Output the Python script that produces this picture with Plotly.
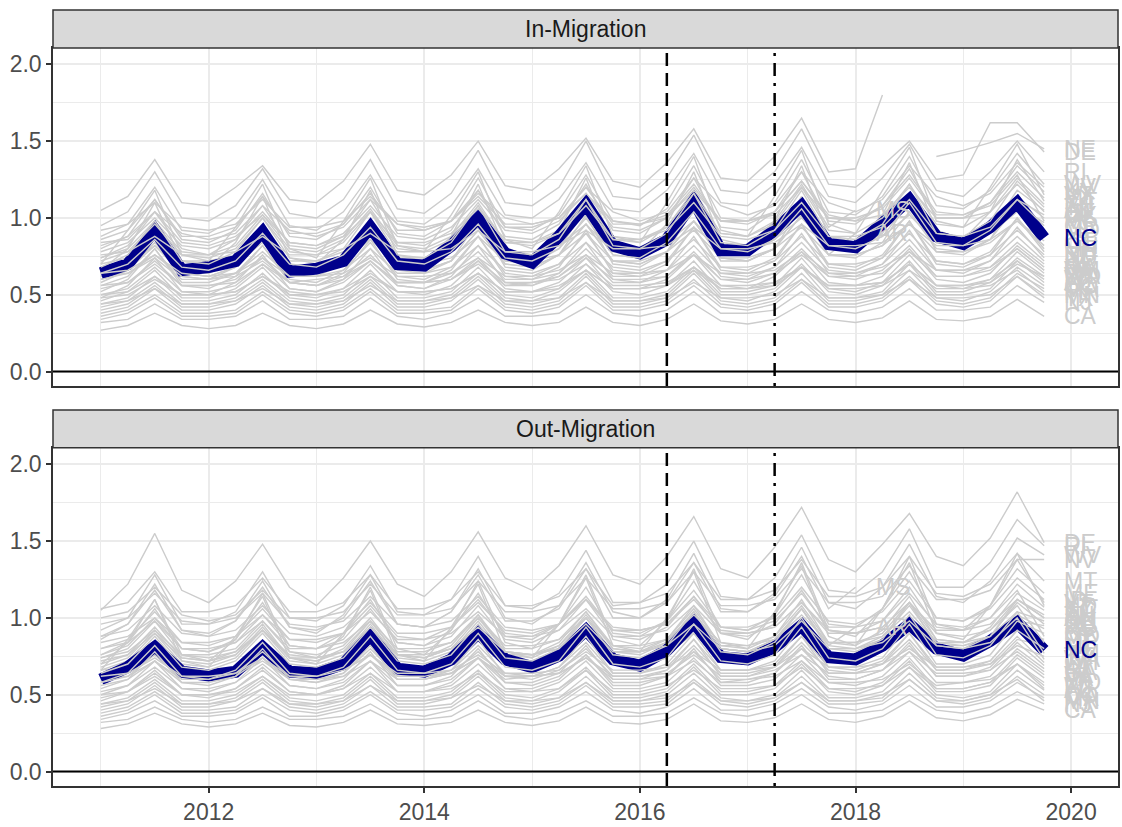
import plotly.graph_objects as go

# ---------------- data (hundredths; "-" = missing) ----------------
YEARS = list(range(2011, 2020))
QUARTERS = [y + q / 4 for y in YEARS for q in range(4)]   # 2011 Q1 ... 2019 Q4
X_TICKS = [2012, 2014, 2016, 2018, 2020]
Y_TICKS = [0.0, 0.5, 1.0, 1.5, 2.0]
PANELS = ["In-Migration", "Out-Migration"]
EVENT_DASHED = 2016.25
EVENT_DOTDASH = 2017.25
HIGHLIGHT = "NC"

NC_IN = [0.64, 0.70, 0.92, 0.66, 0.68, 0.72, 0.91, 0.65, 0.67, 0.72, 0.94, 0.70,
         0.69, 0.82, 1.00, 0.77, 0.71, 0.88, 1.09, 0.82, 0.77, 0.86, 1.11, 0.79,
         0.79, 0.92, 1.08, 0.83, 0.81, 0.97, 1.12, 0.88, 0.83, 0.94, 1.10, 0.87]
NC_OUT = [0.60, 0.68, 0.81, 0.65, 0.625, 0.65, 0.81, 0.65, 0.64, 0.70, 0.885, 0.67,
          0.65, 0.73, 0.90, 0.73, 0.68, 0.755, 0.92, 0.73, 0.69, 0.79, 0.97, 0.745,
          0.73, 0.81, 0.95, 0.745, 0.73, 0.82, 0.96, 0.80, 0.755, 0.85, 0.97, 0.79]

IN_MIGRATION = {
    "NE": "105 114 138 110 108 120 134 112 110 124 148 118 115 128 150 121 118 132 152 124 120 136 158 126 124 140 165 130 132 180 - 140 144 149 155 145",
    "DE": "95 104 130 100 98 108 132 103 100 112 138 106 103 116 144 110 108 120 150 114 112 126 154 118 116 130 158 122 120 134 150 125 128 162 162 143",
    "RI": "88 96 120 92 90 100 125 95 92 104 128 98 96 108 132 102 100 112 136 106 104 118 142 110 108 122 146 114 110 126 148 118 114 130 150 130",
    "WV": "80 88 112 86 84 92 116 88 86 96 120 90 88 98 126 94 92 102 128 98 95 106 134 100 98 110 138 104 102 114 140 108 106 118 142 122",
    "NV": "84 86 104 90 86 90 108 92 88 94 112 96 92 98 116 100 96 100 120 104 98 104 126 108 102 108 130 110 104 112 134 114 108 116 136 120",
    "KY": "74 82 104 80 76 86 108 82 80 88 112 84 82 92 118 88 86 96 122 92 90 100 126 94 92 104 130 98 96 108 132 100 100 110 134 117",
    "VT": "70 92 118 76 72 94 122 80 74 98 126 82 78 102 130 86 80 104 134 88 84 110 140 92 88 114 144 96 90 118 146 98 94 120 148 115",
    "ID": "78 84 100 82 80 86 104 84 82 90 108 88 86 94 112 92 90 98 116 94 92 100 120 98 96 104 124 102 98 108 128 104 102 110 130 113",
    "MT": "66 80 110 72 68 84 114 74 70 86 118 76 72 88 122 80 76 92 126 82 78 96 130 86 82 98 134 88 84 102 136 92 86 104 138 111",
    "SC": "72 78 96 76 74 80 100 78 76 84 104 80 78 86 108 84 82 90 112 86 84 94 116 90 88 96 120 92 90 100 122 96 94 104 126 109",
    "TN": "68 76 98 72 70 78 100 74 72 80 104 76 74 84 108 78 76 86 112 82 80 90 116 84 82 92 118 88 86 96 122 90 88 98 124 107",
    "AL": "62 70 90 66 64 72 94 68 66 74 98 70 68 78 102 72 70 80 106 76 74 84 110 78 76 86 114 80 80 90 116 84 82 92 118 105",
    "OK": "64 70 86 68 66 72 90 70 68 76 94 72 70 78 96 74 72 80 100 76 74 84 104 80 78 86 106 82 80 88 110 84 82 92 112 102",
    "IA": "58 66 88 62 60 68 92 64 62 70 94 66 64 72 98 68 66 76 102 70 68 78 106 72 72 80 108 76 74 84 112 78 76 86 114 100",
    "KS": "60 66 82 64 62 68 86 66 64 70 88 68 66 72 92 70 68 76 96 72 70 78 98 74 72 80 102 76 76 82 104 80 78 86 108 97",
    "OR": "82 88 104 84 82 88 102 84 82 88 104 84 84 90 106 86 84 90 108 86 86 92 110 88 86 92 110 88 88 94 112 90 88 94 112 95",
    "ME": "56 62 80 58 58 64 82 60 58 66 84 62 60 68 88 64 62 70 90 66 64 72 94 68 66 74 96 70 68 76 98 72 70 78 100 80",
    "NH": "52 60 80 56 54 62 82 58 56 64 86 60 58 66 88 62 60 68 92 64 62 70 94 66 64 72 96 68 66 74 98 70 68 76 100 78",
    "SD": "60 64 76 62 60 64 78 62 62 66 80 64 64 68 82 66 64 70 84 68 66 72 86 68 68 72 88 70 70 74 90 72 70 76 92 76",
    "ND": "48 56 74 52 50 58 76 54 52 60 80 56 54 62 82 58 56 64 84 60 58 66 88 62 60 68 90 64 62 70 92 66 64 72 94 74",
    "LA": "54 58 72 56 56 60 74 58 56 62 76 58 58 64 78 60 60 64 80 62 62 66 82 64 62 68 84 66 64 70 86 66 66 72 88 72",
    "IN": "50 54 68 52 52 56 70 54 52 58 72 56 54 60 74 56 56 62 76 58 58 62 78 60 58 64 80 62 60 66 82 62 62 68 84 70",
    "GA": "46 52 66 48 48 54 68 50 48 54 70 52 50 56 72 54 52 58 74 54 54 60 76 56 54 62 78 58 56 62 80 60 58 64 82 68",
    "VA": "56 58 70 56 56 58 70 58 56 60 72 58 58 60 72 58 58 62 74 60 60 62 76 60 60 64 76 62 62 64 78 62 62 66 80 66",
    "PA": "44 48 62 46 46 50 64 48 46 50 66 48 48 52 68 50 48 54 70 52 50 56 72 52 52 56 74 54 52 58 76 56 54 60 78 64",
    "MO": "42 46 58 44 44 48 60 46 44 48 62 46 46 50 64 48 46 52 66 48 48 52 68 50 50 54 70 52 50 56 72 52 52 58 74 62",
    "WI": "40 44 56 42 42 46 58 44 42 46 60 44 44 48 62 46 44 48 64 46 46 50 66 48 46 52 68 48 48 52 70 50 50 54 72 60",
    "AZ": "50 52 62 50 50 52 62 52 50 54 64 52 52 54 64 52 52 56 66 54 54 56 68 54 54 58 68 56 56 58 70 56 56 60 72 58",
    "CO": "38 42 54 40 40 44 56 42 40 44 58 42 42 46 60 44 42 46 62 44 44 48 64 46 44 48 64 46 46 50 66 48 46 52 68 56",
    "MA": "36 40 50 38 38 40 52 40 38 42 54 40 40 42 56 42 40 44 58 42 42 46 60 44 42 46 60 44 44 48 62 46 44 48 64 54",
    "MN": "34 38 48 36 36 38 50 38 36 40 52 38 38 40 54 40 38 42 56 40 40 44 56 42 40 44 58 42 42 46 60 44 42 46 62 50",
    "NJ": "32 34 44 34 34 36 46 34 34 36 48 36 34 38 48 36 36 38 50 38 36 40 52 38 38 40 52 40 38 42 54 40 40 42 56 45",
    "CA": "27 30 38 30 28 30 38 30 28 31 40 31 29 32 40 32 30 32 42 32 30 34 44 33 31 34 44 34 32 35 46 34 33 36 47 36",
    "TX": "44 46 54 44 44 46 54 44 44 46 56 46 46 48 56 46 46 48 58 46 46 48 58 48 48 50 60 48 48 50 60 48 48 50 62 48",
    "FL": "62 64 74 60 60 62 72 58 60 62 72 58 58 60 70 56 58 60 70 56 56 58 68 56 56 58 68 54 54 56 66 54 54 56 66 52",
    "MD": "70 74 88 72 72 76 90 72 72 78 92 74 74 80 94 76 76 82 96 78 78 84 98 80 80 86 100 82 82 88 102 84 84 90 104 92",
    "CT": "66 70 82 66 66 70 84 68 68 72 86 70 70 74 88 72 72 76 90 72 72 78 92 74 74 80 94 76 76 82 96 78 78 84 98 85",
    "OH": "76 78 88 76 76 78 88 76 76 80 90 78 78 80 92 78 78 82 92 80 80 82 94 80 80 84 96 82 82 84 96 82 82 86 98 82",
    "MI": "86 92 112 88 88 94 114 90 90 96 116 92 92 98 118 94 94 100 120 96 96 102 122 98 98 104 124 100 100 106 126 102 102 108 128 98",
    "WA": "48 50 60 50 50 52 62 50 50 52 62 52 52 54 64 52 52 54 66 54 54 56 66 54 54 56 68 56 56 58 70 56 56 58 70 62",
    "UT": "92 96 110 94 92 96 112 94 94 98 114 96 94 98 114 96 96 100 116 98 96 100 118 98 98 102 120 100 98 102 120 100 100 104 122 104",
    "NM": "64 66 76 64 62 64 74 62 62 64 74 62 62 64 74 62 62 66 76 64 64 66 76 64 64 66 78 64 64 68 78 66 66 68 80 66",
    "MS": "74 80 98 78 76 82 102 80 78 86 106 82 80 88 110 84 84 92 114 88 86 94 118 90 88 98 122 94 105 - - - - - - -",
    "AR": "60 66 84 64 62 68 86 66 64 70 90 68 66 72 92 70 68 76 96 72 70 78 98 74 72 80 102 76 90 - - - - - - -",
}

OUT_MIGRATION = {
    "DE": "105 122 155 118 110 124 148 120 108 126 150 122 114 130 156 126 118 134 160 128 122 140 166 132 126 146 172 138 130 148 168 140 134 152 182 149",
    "RI": "92 100 128 96 96 104 130 100 98 108 134 104 102 112 140 108 106 116 144 110 110 122 150 114 112 126 154 118 116 130 158 120 120 136 164 147",
    "WV": "86 96 122 92 88 98 124 94 90 102 128 96 94 104 132 100 96 108 136 104 100 112 142 106 104 116 146 110 106 120 148 114 110 124 152 141",
    "NV": "100 104 120 102 98 102 118 100 100 104 122 102 102 106 124 104 104 108 126 106 106 110 130 108 108 112 132 110 110 114 134 112 112 118 138 138",
    "MT": "70 84 112 76 72 86 116 78 74 88 120 80 76 92 124 84 80 96 128 86 82 98 132 90 86 102 136 92 88 106 140 96 92 108 142 124",
    "ME": "76 84 106 80 78 86 110 82 80 90 112 84 82 92 116 88 86 96 120 90 88 98 124 94 92 102 128 96 94 106 130 100 98 108 132 116",
    "ID": "80 86 104 84 82 88 106 86 84 90 108 88 86 94 112 90 88 96 114 92 90 98 118 94 94 100 120 98 96 104 124 100 98 106 126 112",
    "VT": "66 86 112 72 68 88 114 74 70 90 118 76 72 94 122 78 74 96 126 82 78 100 130 84 80 104 134 88 82 106 136 90 86 108 138 110",
    "KY": "76 82 100 80 78 84 102 82 80 86 106 84 82 88 108 86 84 92 112 88 86 94 114 90 88 96 118 92 90 98 120 94 92 100 122 107",
    "SC": "68 74 92 72 70 76 94 74 72 78 98 76 74 82 102 78 76 84 104 80 78 86 108 82 80 88 112 84 82 92 114 86 84 94 116 105",
    "TN": "64 70 88 68 66 72 90 70 68 74 94 72 70 76 96 74 72 80 100 76 74 82 104 78 76 84 106 80 78 86 110 82 80 88 112 102",
    "AL": "84 88 100 84 84 88 102 86 86 90 104 86 86 90 104 88 88 92 106 88 88 92 108 90 90 94 110 90 90 94 110 92 92 96 112 100",
    "OK": "58 64 82 62 60 66 84 64 62 68 88 66 64 70 90 68 66 72 94 70 68 74 96 72 70 76 100 74 72 80 102 76 74 82 104 98",
    "IA": "62 66 80 64 64 68 82 66 64 70 84 68 66 72 86 70 68 74 88 70 70 76 90 72 72 78 94 74 74 80 96 76 76 82 98 95",
    "KS": "72 76 90 74 72 76 92 74 74 78 92 76 74 80 94 76 76 80 96 78 78 82 98 80 78 84 100 80 80 86 100 82 82 86 102 93",
    "OR": "54 60 78 58 56 62 80 60 58 64 82 60 60 66 86 62 62 68 88 64 64 70 90 66 66 72 94 68 68 74 96 70 70 76 98 90",
    "MD": "88 92 108 90 88 92 108 90 88 94 110 90 90 94 110 92 90 96 112 92 92 96 114 94 92 98 116 94 94 98 116 96 94 100 118 88",
    "CT": "50 56 72 54 52 58 74 56 54 60 78 56 56 62 80 58 58 64 82 60 60 66 86 62 62 68 88 64 64 70 90 66 66 72 92 86",
    "UT": "96 100 116 98 96 100 116 96 94 98 114 96 94 98 114 94 92 96 112 94 92 96 112 92 90 94 110 92 90 94 110 90 88 92 108 84",
    "MI": "46 52 66 50 48 54 68 52 50 56 72 52 52 58 74 54 54 60 76 56 56 62 80 58 58 64 82 60 60 66 84 62 62 68 86 82",
    "OH": "56 60 72 58 58 62 74 60 58 62 76 60 60 64 78 62 60 66 80 62 62 66 82 64 64 68 84 66 64 70 86 66 66 70 88 71",
    "LA": "52 56 68 54 54 58 70 56 54 58 72 56 56 60 74 58 56 62 76 58 58 62 78 60 60 64 80 62 60 66 82 62 62 66 84 69",
    "IN": "48 52 64 50 50 54 66 52 50 54 68 52 52 56 70 54 52 58 72 54 54 58 74 56 56 60 76 58 56 62 78 58 58 62 80 67",
    "GA": "60 62 72 60 60 62 72 60 60 62 72 60 60 64 74 62 62 64 74 62 62 64 76 62 62 66 76 64 64 66 78 64 64 66 78 65",
    "VA": "44 48 60 46 46 50 62 48 46 50 64 48 48 52 66 50 48 54 68 50 50 54 70 52 52 56 72 54 52 58 74 54 54 58 76 63",
    "PA": "42 46 58 44 44 48 60 46 44 48 62 46 46 50 64 48 46 52 66 48 48 52 68 50 50 54 70 52 50 56 72 52 52 56 74 61",
    "MO": "40 44 56 42 42 46 58 44 42 46 60 44 44 48 62 46 44 48 62 46 46 50 64 48 46 50 66 48 48 52 68 50 48 52 70 58",
    "WI": "50 52 62 50 50 52 62 50 50 54 64 52 52 54 64 52 52 54 66 52 52 56 66 54 54 56 68 54 54 56 68 54 54 58 70 56",
    "AZ": "38 42 52 40 40 42 54 42 40 44 56 42 42 44 58 44 42 46 58 44 44 46 60 46 44 48 62 46 46 48 64 48 46 50 66 53",
    "CO": "36 40 50 38 38 40 50 40 38 42 52 40 40 42 54 42 40 44 56 42 42 44 58 44 42 46 58 44 44 46 60 46 44 48 62 50",
    "MA": "34 38 46 36 36 38 48 36 36 40 50 38 36 40 50 38 38 42 52 40 38 42 54 40 40 44 54 42 40 44 56 42 42 46 58 48",
    "MN": "44 46 54 44 44 46 54 44 44 46 56 46 46 48 56 46 46 48 58 46 46 48 58 46 46 48 58 46 46 50 60 46 46 50 60 46",
    "NJ": "32 34 42 34 32 34 42 34 34 36 44 34 34 36 46 36 34 38 46 36 36 38 48 38 36 40 50 38 38 40 50 40 38 42 52 44",
    "CA": "28 31 38 31 29 31 38 30 29 32 40 31 30 32 40 32 30 33 42 32 31 34 44 33 32 35 44 34 32 36 46 35 33 37 47 40",
    "TX": "62 64 74 62 62 64 74 62 62 66 76 64 64 66 76 64 64 66 78 66 66 68 78 66 66 68 80 68 68 70 80 68 68 70 82 75",
    "FL": "66 68 78 64 64 66 76 62 64 66 76 62 62 64 74 60 62 64 74 60 60 62 72 58 60 62 72 58 58 60 70 56 58 60 70 54",
    "WA": "74 78 92 76 74 78 92 76 74 78 94 76 76 80 94 78 76 80 96 78 78 82 96 80 78 82 98 80 80 84 98 82 80 84 100 73",
    "NM": "80 84 98 80 80 84 98 80 80 84 98 80 80 84 100 82 82 86 100 82 82 86 102 84 82 86 102 84 84 88 104 84 84 88 104 77",
    "SD": "70 76 94 74 72 78 96 74 72 80 98 76 74 80 100 78 76 82 102 80 78 84 104 80 78 86 106 82 80 88 108 84 82 88 110 96",
    "ND": "106 110 130 104 104 108 126 104 104 110 128 106 106 112 130 108 108 114 132 108 110 116 136 112 112 118 138 114 114 120 140 116 114 122 142 108",
    "NH": "74 80 98 76 76 80 98 78 76 82 100 78 78 84 102 80 80 86 104 82 80 86 106 82 82 88 108 84 84 90 110 86 84 92 112 100",
    "NE": "58 62 76 60 60 64 78 62 60 64 80 62 62 66 82 64 62 68 84 64 64 68 86 66 66 70 88 68 66 72 90 68 68 72 92 80",
    "MS": "88 96 118 92 90 98 120 94 92 100 124 96 94 104 128 98 98 106 132 100 100 110 136 104 104 114 140 106 120 - - - - - - -",
    "AR": "66 72 90 70 68 74 92 72 70 76 96 74 72 78 98 76 74 82 100 78 76 84 104 80 78 86 106 82 94 - - - - - - -",
}


def parse(s):
    vals = [None if t == "-" else int(t) / 100 for t in s.split()]
    return vals + [None] * (len(QUARTERS) - len(vals))


# ---------------- styling ----------------
FONT = "Liberation Sans, Arial, sans-serif"
GRAY = "#CCCCCC"
NAVY = "#00008B"
FS = 23
LABEL_OFFSET = 0.17

# pixel layout (plot area from y=10 to y=788)
TOP, BOT = 10, 788
H = BOT - TOP
def fy(p):
    return (BOT - p) / H

UP_DOM = [fy(387), fy(48)]
LO_DOM = [fy(788), fy(449)]
UP_STRIP = [fy(48), fy(10)]
LO_STRIP = [fy(449), fy(411)]
Y_RANGE = [-0.094, 2.107]
X_RANGE = [2010.556, 2020.435]

fig = go.Figure()
annotations = []
shapes = []

panel_data = [(IN_MIGRATION, NC_IN, "x", "y"), (OUT_MIGRATION, NC_OUT, "x2", "y2")]
for data, nc, xa, ya in panel_data:
    series = {st: parse(s) for st, s in data.items()}
    series[HIGHLIGHT] = nc
    # lines are drawn in alphabetical (group) order, so later states overlay NC
    for st in sorted(series):
        vals = series[st]
        hl = st == HIGHLIGHT
        fig.add_trace(go.Scatter(x=QUARTERS, y=vals, mode="lines", xaxis=xa, yaxis=ya,
                                 line=dict(color=NAVY if hl else GRAY, width=12 if hl else 1.4),
                                 showlegend=False, hoverinfo="skip", connectgaps=False))
        if not hl:
            idx = max(i for i, v in enumerate(vals) if v is not None)
            annotations.append(dict(x=QUARTERS[idx] + LABEL_OFFSET, y=vals[idx], xref=xa, yref=ya,
                                    text=st, showarrow=False, xanchor="left", yanchor="middle",
                                    font=dict(family=FONT, size=FS, color=GRAY)))
    annotations.append(dict(x=QUARTERS[-1] + LABEL_OFFSET, y=nc[-1], xref=xa, yref=ya,
                            text=HIGHLIGHT, showarrow=False, xanchor="left", yanchor="middle",
                            font=dict(family=FONT, size=FS, color=NAVY)))
    # zero line
    shapes.append(dict(type="line", xref=xa + " domain", yref=ya, x0=0, x1=1, y0=0, y1=0,
                       line=dict(color="black", width=2)))
    # event lines
    shapes.append(dict(type="line", xref=xa, yref=ya + " domain", x0=EVENT_DASHED, x1=EVENT_DASHED,
                       y0=0, y1=1, line=dict(color="black", width=2.5, dash="13px,7px")))
    shapes.append(dict(type="line", xref=xa, yref=ya + " domain", x0=EVENT_DOTDASH, x1=EVENT_DOTDASH,
                       y0=0, y1=1, line=dict(color="black", width=2.5, dash="3px,7px,13px,7px")))

# strips
for dom, title in [(UP_STRIP, PANELS[0]), (LO_STRIP, PANELS[1])]:
    shapes.append(dict(type="rect", xref="paper", yref="paper", x0=0, x1=1, y0=dom[0], y1=dom[1],
                       fillcolor="#D9D9D9", line=dict(color="#333333", width=1.5), layer="above"))
    annotations.append(dict(x=0.5, y=(dom[0] + dom[1]) / 2, xref="paper", yref="paper",
                            text=title, showarrow=False, xanchor="center", yanchor="middle",
                            font=dict(family=FONT, size=FS, color="#1A1A1A")))

minor_x = [2011, 2013, 2015, 2017, 2019]
minor_y = [0.25, 0.75, 1.25, 1.75]

axis_common = dict(showgrid=True, gridcolor="#EBEBEB", gridwidth=2, zeroline=False,
                   showline=True, linecolor="#333333", linewidth=1.5, mirror=True,
                   tickfont=dict(family=FONT, size=FS, color="#4D4D4D"))

xaxis_common = dict(axis_common, range=X_RANGE, tickvals=X_TICKS,
                    ticktext=[str(t) for t in X_TICKS],
                    minor=dict(tickvals=minor_x, showgrid=True, gridcolor="#EBEBEB", gridwidth=1, ticks=""))
yaxis_common = dict(axis_common, range=Y_RANGE, tickvals=Y_TICKS,
                    ticktext=[f"{v:.1f}" for v in Y_TICKS], ticks="outside", ticklen=5,
                    tickcolor="#333333", tickwidth=1.5,
                    minor=dict(tickvals=minor_y, showgrid=True, gridcolor="#EBEBEB", gridwidth=1, ticks=""))

fig.update_layout(
    width=1122, height=827,
    margin=dict(l=53, r=2, t=TOP, b=827 - BOT),
    paper_bgcolor="white", plot_bgcolor="white",
    xaxis=dict(xaxis_common, domain=[0, 1], anchor="y", showticklabels=False, ticks=""),
    yaxis=dict(yaxis_common, domain=UP_DOM, anchor="x"),
    xaxis2=dict(xaxis_common, domain=[0, 1], anchor="y2", ticks="outside", ticklen=5,
                tickcolor="#333333", tickwidth=1.5, matches="x"),
    yaxis2=dict(yaxis_common, domain=LO_DOM, anchor="x2"),
    annotations=annotations,
    shapes=shapes,
    showlegend=False,
)

fig.write_html("out.html")
